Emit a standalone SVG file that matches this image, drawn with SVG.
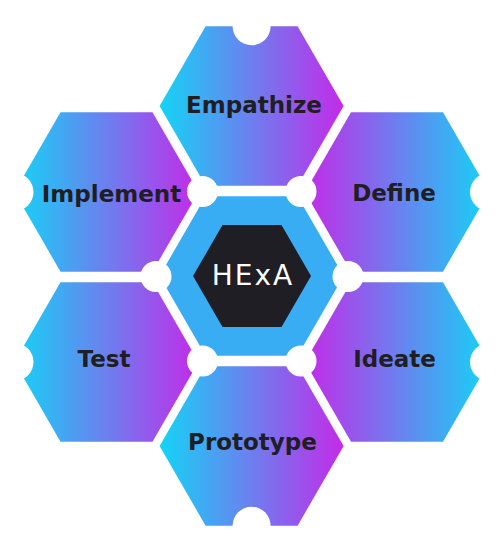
<svg xmlns="http://www.w3.org/2000/svg" width="501" height="551" viewBox="0 0 501 551">
  <defs>
    <linearGradient id="gLR" x1="0" y1="0" x2="1" y2="0">
      <stop offset="0" stop-color="#14D4F6"/>
      <stop offset="1" stop-color="#C42AE8"/>
    </linearGradient>
    <linearGradient id="gRL" x1="1" y1="0" x2="0" y2="0">
      <stop offset="0" stop-color="#14D4F6"/>
      <stop offset="1" stop-color="#C42AE8"/>
    </linearGradient>
    <style>
      .lbl { font-family: "DejaVu Sans", "Liberation Sans", sans-serif; font-weight: bold; font-size: 23px; fill: #1E1E24; text-anchor: middle; }
      .core { font-family: "DejaVu Sans", "Liberation Sans", sans-serif; font-size: 28px; fill: #FFFFFF; text-anchor: middle; letter-spacing: 2px; }
      .notch { fill: #FFFFFF; }
    </style>
  </defs>
  <rect width="501" height="551" fill="#FFFFFF"/>

  <g id="node-center">
    <polygon points="343.6,276 297.6,355.7 205.6,355.7 159.6,276 205.6,196.3 297.6,196.3" fill="#38ADF3"/>
    <polygon points="311,276 281.5,327 222.5,327 193,276 222.5,225 281.5,225" fill="#1E1E24"/>
    <text class="core" x="253" y="284.5">HExA</text>
  </g>

  <g id="node-empathize">
    <polygon points="343.6,106 297.6,185.7 205.6,185.7 159.6,106 205.6,26.3 297.6,26.3" fill="url(#gLR)"/>
    <text class="lbl" x="254" y="113">Empathize</text>
  </g>

  <g id="node-define">
    <polygon points="489,192 443,271.7 351,271.7 305,192 351,112.3 443,112.3" fill="url(#gRL)"/>
    <text class="lbl" x="394" y="201">Define</text>
  </g>

  <g id="node-ideate">
    <polygon points="489,362 443,441.7 351,441.7 305,362 351,282.3 443,282.3" fill="url(#gRL)"/>
    <text class="lbl" x="394.5" y="367">Ideate</text>
  </g>

  <g id="node-prototype">
    <polygon points="343.6,446 297.6,525.7 205.6,525.7 159.6,446 205.6,366.3 297.6,366.3" fill="url(#gLR)"/>
    <text class="lbl" x="252.5" y="449.5">Prototype</text>
  </g>

  <g id="node-test">
    <polygon points="198.5,362 152.5,441.7 60.5,441.7 14.5,362 60.5,282.3 152.5,282.3" fill="url(#gLR)"/>
    <text class="lbl" x="104" y="367">Test</text>
  </g>

  <g id="node-implement">
    <polygon points="198.5,192 152.5,271.7 60.5,271.7 14.5,192 60.5,112.3 152.5,112.3" fill="url(#gLR)"/>
    <text class="lbl" x="111.5" y="201.5">Implement</text>
  </g>

  <g id="connectors">
    <circle class="notch" cx="202.5" cy="191.5" r="15.5"/>
    <circle class="notch" cx="301" cy="191.5" r="15.5"/>
    <circle class="notch" cx="156" cy="276.5" r="15.5"/>
    <circle class="notch" cx="348" cy="276.5" r="15.5"/>
    <circle class="notch" cx="202.5" cy="361" r="15.5"/>
    <circle class="notch" cx="301" cy="361" r="15.5"/>
    <circle class="notch" cx="251.6" cy="26.3" r="19"/>
    <circle class="notch" cx="251.6" cy="525.7" r="19"/>
    <circle class="notch" cx="14.5" cy="192" r="19"/>
    <circle class="notch" cx="14.5" cy="362" r="19"/>
    <circle class="notch" cx="489" cy="192" r="19"/>
    <circle class="notch" cx="489" cy="362" r="19"/>
  </g>
</svg>
